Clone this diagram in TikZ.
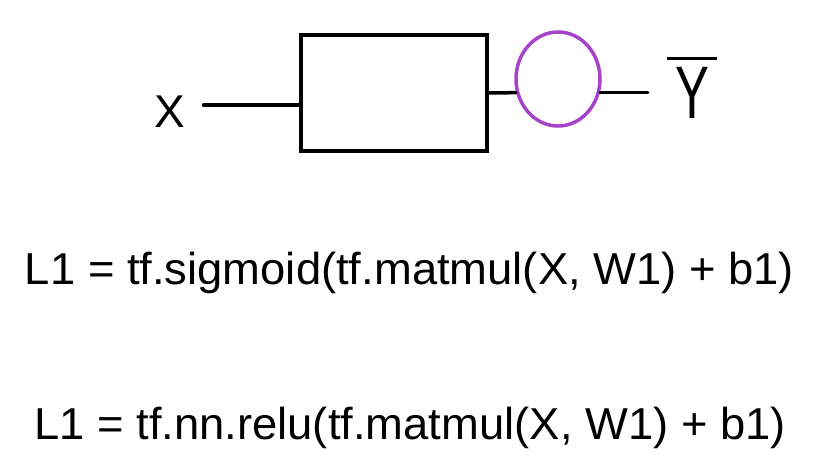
\documentclass[tikz,border=0pt]{standalone}
\usepackage{fontspec}
\usepackage{graphicx}
\usetikzlibrary{shapes.geometric}
\newfontfamily\codefont[FakeStretch=1.015]{Liberation Sans}
\newfontfamily\handfont{Liberation Sans}
\definecolor{handpurple}{RGB}{165,68,200}

\begin{document}
\begin{tikzpicture}[x=1pt,y=-1pt,
  wire/.style={line width=3.5pt, line cap=round},
  layer/.style={draw, line width=3.5pt, minimum width=186pt, minimum height=116pt, inner sep=0pt},
  actfn/.style={ellipse, draw=handpurple, line width=3.5pt, minimum width=84pt, minimum height=94pt, inner sep=0pt},
  hand/.style={inner sep=0pt, font=\handfont\fontsize{46}{46}\selectfont},
  code/.style={anchor=base, inner sep=0pt, font=\codefont\fontsize{44.7}{54}\selectfont}]
\useasboundingbox (0,0) rectangle (816,456);
\node[hand, anchor=base] (xin) at (170,127) {X};
\node[layer] (box) at (394,93) {};
\node[actfn] (act) at (558,79) {};
\node[hand, anchor=base] (yhat) at (692,118)
  {\vbox{\hrule width 50pt height 3pt\kern 7pt\hbox to 50pt{\hss\fontsize{62}{62}\selectfont\scalebox{0.82}[1.2]{Y}\hss}}};
\draw[wire, shorten <=18pt] ([yshift=6pt]xin.east) -- ([yshift=6pt]xin.east -| box.west);
\draw[wire] (box.east) -- (act.198);
\draw[wire, shorten >=19pt] (act.-18) -- (act.-18 -| yhat.west);
\node[code] (sig) at (409.5,284) {L1 = tf.sigmoid(tf.matmul(X, W1) + b1)};
\node[code] (relu) at (410,439) {L1 = tf.nn.relu(tf.matmul(X, W1) + b1)};
\end{tikzpicture}
\end{document}
